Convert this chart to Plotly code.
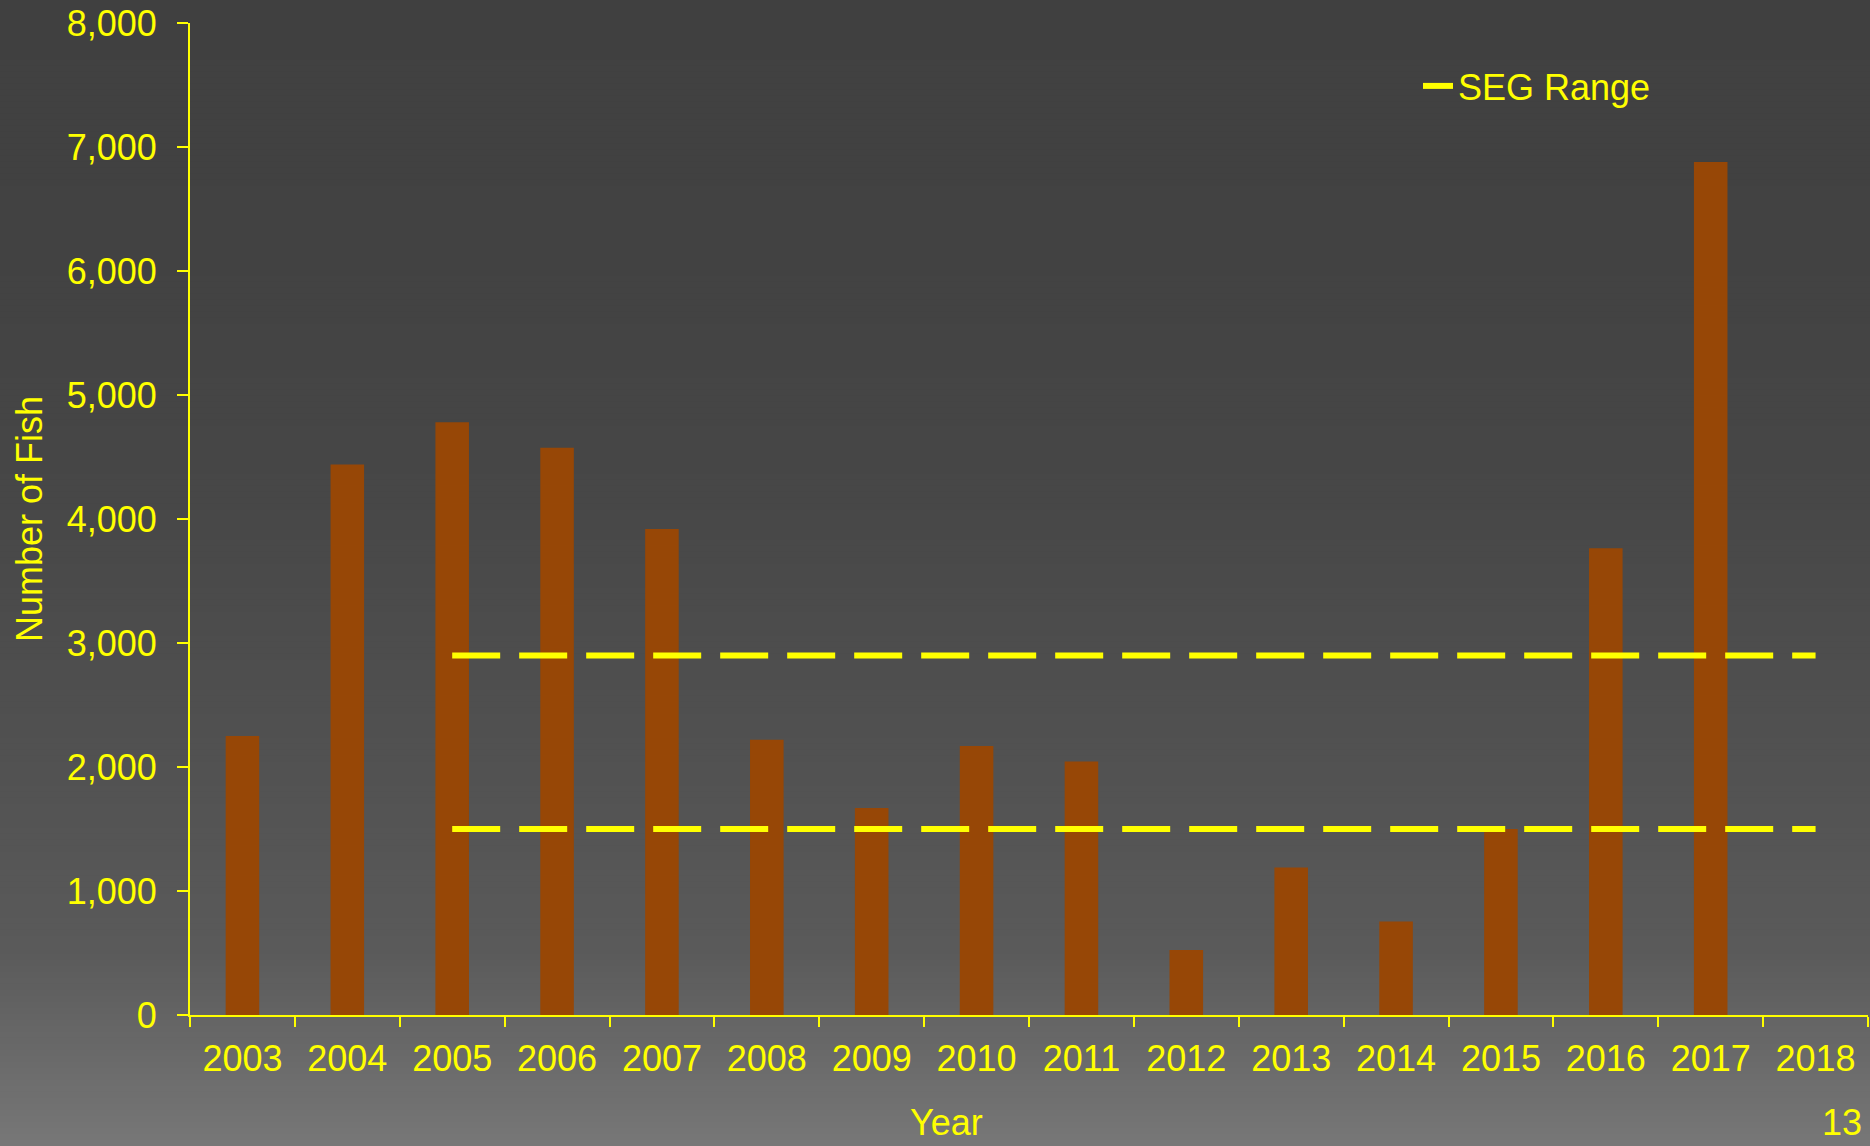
import plotly.graph_objects as go

# ---- data ----
years = ["2003", "2004", "2005", "2006", "2007", "2008", "2009", "2010",
         "2011", "2012", "2013", "2014", "2015", "2016", "2017", "2018"]
fish = [2250, 4440, 4780, 4575, 3920, 2220, 1670, 2170,
        2045, 525, 1190, 755, 1500, 3765, 6880, None]
seg_years = ["2005", "2006", "2007", "2008", "2009", "2010", "2011",
             "2012", "2013", "2014", "2015", "2016", "2017", "2018"]
seg_upper = [2900] * len(seg_years)
seg_lower = [1500] * len(seg_years)
y_ticks = [0, 1000, 2000, 3000, 4000, 5000, 6000, 7000, 8000]

W, H = 1870, 1146
ML, MR, MT, MB = 190, 2, 23, 131
PW, PH = W - ML - MR, H - MT - MB
YEL = "#FFFF00"
FONT = "Liberation Sans, Arial, sans-serif"

fig = go.Figure()
fig.add_trace(go.Bar(x=years, y=fish, marker=dict(color="#974706", line=dict(width=0)),
                     showlegend=False, name="Escapement"))
fig.add_trace(go.Scatter(x=seg_years, y=seg_upper, mode="lines", name="SEG Range",
                         legendgroup="seg",
                         line=dict(color=YEL, width=6, dash="48px,19px")))
fig.add_trace(go.Scatter(x=seg_years, y=seg_lower, mode="lines", name="SEG Range",
                         legendgroup="seg", showlegend=False,
                         line=dict(color=YEL, width=6, dash="48px,19px")))

# background gradient as horizontal bands
stops = [(0, 64), (250, 66), (500, 71), (750, 81), (950, 90), (1146, 119)]
def gray_at(py):
    for (a, ca), (b, cb) in zip(stops[:-1], stops[1:]):
        if a <= py <= b:
            return ca + (cb - ca) * (py - a) / (b - a)
    return stops[-1][1]

shapes = []
band = 6
for py in range(0, H, band):
    g = int(round(gray_at(py + band / 2)))
    y0 = 1 - (py + band - MT) / PH
    y1 = 1 - (py - MT) / PH
    shapes.append(dict(type="rect", xref="paper", yref="paper",
                       x0=-ML / PW - 0.01, x1=(W - ML) / PW + 0.01,
                       y0=y0 - 0.0005, y1=y1 + 0.0005, layer="below",
                       line=dict(width=0), fillcolor=f"rgb({g},{g},{g})"))

fig.update_layout(
    width=W, height=H,
    margin=dict(l=ML, r=MR, t=MT, b=MB, pad=0),
    paper_bgcolor="#404040", plot_bgcolor="rgba(0,0,0,0)",
    font=dict(family=FONT, size=36, color=YEL),
    bargap=0.68,
    shapes=shapes,
    showlegend=True,
    legend=dict(x=(1418 - ML) / PW, y=1 - (86 - MT) / PH, xanchor="left", yanchor="middle",
                bgcolor="rgba(0,0,0,0)", font=dict(size=36, color=YEL, family=FONT)),
    xaxis=dict(type="category", categoryorder="array", categoryarray=years,
               showgrid=False, showline=True, linecolor=YEL, linewidth=2,
               ticks="outside", tickson="boundaries", ticklen=10, tickwidth=2, tickcolor=YEL,
               tickfont=dict(size=36, color=YEL), zeroline=False, fixedrange=True,
               ticklabelstandoff=11),
    yaxis=dict(range=[0, 8000], tickvals=y_ticks, tickformat=",d",
               showgrid=False, showline=True, linecolor=YEL, linewidth=2,
               ticks="outside", ticklen=11, tickwidth=2, tickcolor=YEL,
               tickfont=dict(size=36, color=YEL), zeroline=False,
               ticklabelstandoff=13),
    annotations=[
        dict(text="Number of Fish", xref="paper", yref="paper",
             x=(29 - ML) / PW, y=0.5, textangle=-90, showarrow=False,
             xanchor="center", yanchor="middle", font=dict(size=36, color=YEL)),
        dict(text="Year", xref="paper", yref="paper",
             x=(946 - ML) / PW, y=1 - (1145 - MT) / PH, showarrow=False,
             xanchor="center", yanchor="bottom", font=dict(size=36, color=YEL)),
        dict(text="13", xref="paper", yref="paper",
             x=(1864 - ML) / PW, y=1 - (1145 - MT) / PH, showarrow=False,
             xanchor="right", yanchor="bottom", font=dict(size=36, color=YEL)),
    ],
)

fig.write_html("out.html", config={"displayModeBar": False},
               post_script="document.body.style.margin='0';")
